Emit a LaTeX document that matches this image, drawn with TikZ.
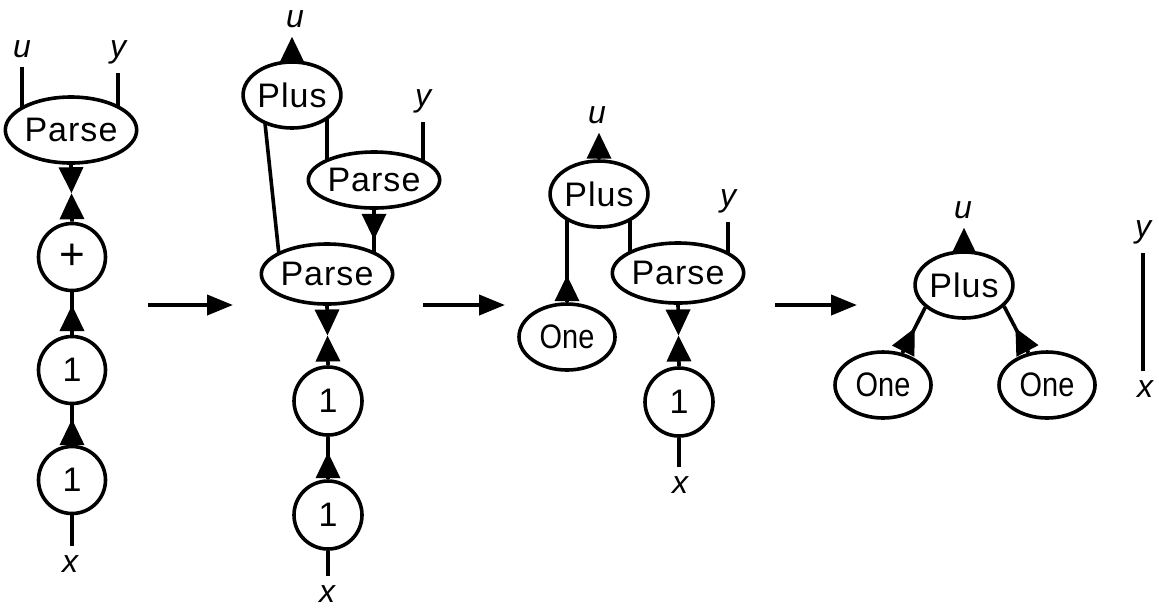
\documentclass[tikz,border=0pt]{standalone}
\usepackage{fontspec}
\setmainfont{Liberation Sans}
\newfontfamily\spc{Liberation Sans}[LetterSpace=3]
\newfontfamily\cond{Liberation Sans}[FakeStretch=0.85]
\usetikzlibrary{arrows.meta,shapes.geometric,calc,backgrounds}
\begin{document}
\begin{tikzpicture}[x=0.5pt,y=-0.5pt,
  every node/.style={font=\fontsize{17}{20}\selectfont},
  box/.style={draw,line width=1.8pt,fill=white,ellipse,inner sep=0pt},
  parsebox/.style={box,minimum width=64pt,minimum height=30pt,font=\fontsize{17}{20}\selectfont\spc},
  plusbox/.style={box,minimum width=47.5pt,minimum height=33pt,font=\fontsize{17}{20}\selectfont\spc},
  onebox/.style={box,minimum width=48pt,minimum height=33pt,font=\fontsize{17}{20}\selectfont\cond},
  digit/.style={draw,line width=1.8pt,fill=white,circle,inner sep=0pt,minimum size=33.5pt,font=\fontsize{17}{20}\selectfont},
  lbl/.style={inner sep=4.5pt,anchor=base,font=\fontsize{16}{18}\selectfont\itshape},
  arr/.style={line width=1.8pt,-{Triangle[length=13pt,width=12pt]}},
  bigarr/.style={line width=2pt,-{Triangle[length=13pt,width=10pt]}},
  wire/.style={line width=1.8pt}]
\useasboundingbox (0,0) rectangle (1159,607);

% Diagram 1
\node[parsebox,minimum width=65.5pt,minimum height=33pt] (parseA) at (71,130) {Parse};
\node[digit,font=\fontsize{22}{24}\selectfont] (plusA) at (72,257) {+};
\node[digit] (oneA1) at (72,370) {1};
\node[digit] (oneA2) at (72,480) {1};
\node[lbl] (uA) at (22,57) {u};
\node[lbl] (yA) at (118,57) {y};
\node[lbl] (xA) at (70,572) {x};

% Diagram 2
\node[plusbox] (plusB) at (292,95) {Plus};
\node[parsebox,minimum height=28pt] (parseU) at (374,180) {Parse};
\node[parsebox] (parseL) at (327,274) {Parse};
\node[digit,minimum size=34pt] (oneB1) at (328,401) {1};
\node[digit,minimum size=34pt] (oneB2) at (328,515) {1};
\node[lbl] (uB) at (295,27) {u};
\node[lbl] (yB) at (423,106) {y};
\node[lbl] (xB) at (327,602) {x};

% Diagram 3
\node[plusbox] (plusC) at (599,194) {Plus};
\node[parsebox,minimum width=62pt] (parseC) at (678,273) {Parse};
\node[onebox] (oneC) at (567,337) {One};
\node[digit,minimum size=34pt] (oneC1) at (679,402) {1};
\node[lbl] (uC) at (597,123) {u};
\node[lbl] (yC) at (728,206) {y};
\node[lbl] (xC) at (680,493) {x};

% Diagram 4
\node[plusbox] (plusD) at (964,285) {Plus};
\node[onebox] (oneD1) at (883,385) {One};
\node[onebox] (oneD2) at (1047,385) {One};
\node[lbl] (uD) at (963,218) {u};
\node[lbl] (yE) at (1143,237) {y};
\node[lbl] (xE) at (1145,397) {x};

\begin{scope}[on background layer]
\draw[wire] (uA.south) -- (uA.south |- parseA.center);
\draw[wire] (yA.south) -- (yA.south |- parseA.center);
\draw[wire] (oneA1.north) -- (plusA.south);
\draw[wire] (oneA2.north) -- (oneA1.south);
\draw[wire] (oneA2.south) -- (oneA2.south |- xA.north);
\draw[wire] ($(plusB.center)+(-30,0)$) -- ($(parseL.center)+(-46,0)$);
\coordinate (rB) at ($(plusB.center)+(35,0)$);
\draw[wire] (rB) -- (rB |- parseU.center);
\draw[wire] (yB.south) -- (yB.south |- parseU.center);
\draw[wire] (parseU.south) -- (parseU.south |- parseL.center);
\draw[wire] (oneB2.north) -- (oneB1.south);
\draw[wire] (oneB2.south) -- (oneB2.south |- xB.north);
\draw[wire] (oneC.north) -- (oneC.north |- plusC.center);
\coordinate (rC) at ($(plusC.center)+(31,0)$);
\draw[wire] (rC) -- (rC |- parseC.center);
\draw[wire] (yC.south) -- (yC.south |- parseC.center);
\draw[wire] (oneC1.south) -- (oneC1.south |- xC.north);
\draw[wire] (oneD1.59) -- (plusD.210);
\draw[wire] (oneD2.120) -- (plusD.332);
\draw[wire] (yE.south) -- (yE.south |- xE.north);
\end{scope}

% arrows diagram 1
\draw[arr] (parseA.south) -- ($(parseA.south)!0.5!(plusA.north)$);
\draw[arr] (plusA.north) -- ($(parseA.south)!0.5!(plusA.north)$);
\draw[arr] (oneA1.north) -- ($(oneA1.north)!0.7!(plusA.south)$);
\draw[arr] (oneA2.north) -- ($(oneA2.north)!0.65!(oneA1.south)$);
% arrows diagram 2
\draw[arr] (plusB.north) -- (plusB.north |- uB.south);
\draw[arr] (parseU.south) -- ($(parseU.south)+(0,30)$);
\draw[arr] (parseL.south) -- ($(parseL.south)!0.5!(oneB1.north)$);
\draw[arr] (oneB1.north) -- ($(parseL.south)!0.5!(oneB1.north)$);
\draw[arr] (oneB2.north) -- ($(oneB2.north)!13.5pt!(oneB1.south)$);
% arrows diagram 3
\draw[arr] (plusC.north) -- (plusC.north |- uC.south);
\draw[arr] (oneC.north) -- ($(oneC.north)+(0,-27)$);
\draw[arr] (parseC.south) -- ($(parseC.south)!0.5!(oneC1.north)$);
\draw[arr] (oneC1.north) -- ($(parseC.south)!0.5!(oneC1.north)$);
% arrows diagram 4
\draw[arr] (plusD.north) -- (plusD.north |- uD.south);
\draw[arr] (oneD1.59) -- ($(oneD1.59)!14pt!(plusD.210)$);
\draw[arr] (oneD2.120) -- ($(oneD2.120)!14pt!(plusD.332)$);

% transformation arrows
\coordinate (a1s) at (148,305); \coordinate (a1e) at (233,305);
\coordinate (a2s) at (423,305); \coordinate (a2e) at (505,305);
\coordinate (a3s) at (775,305); \coordinate (a3e) at (857,305);
\draw[bigarr] (a1s) -- (a1e);
\draw[bigarr] (a2s) -- (a2e);
\draw[bigarr] (a3s) -- (a3e);
\end{tikzpicture}
\end{document}
